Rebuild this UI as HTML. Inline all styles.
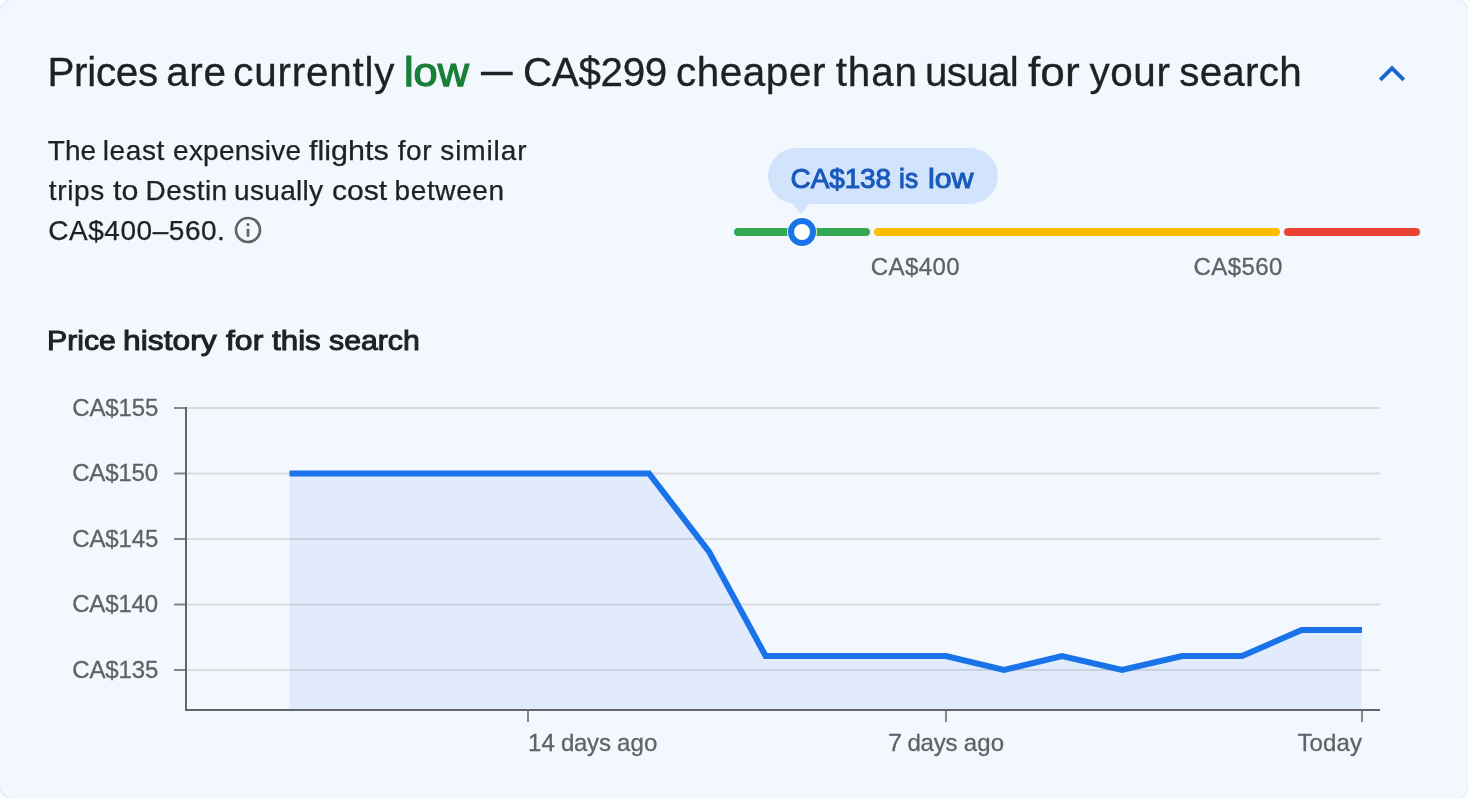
<!DOCTYPE html>
<html lang="en">
<head>
<meta charset="utf-8">
<title>Price insights</title>
<style>
  html, body { margin: 0; padding: 0; }
  html { width: 1468px; height: 798px; overflow: hidden; background: #ffffff; }
  body {
    width: 1468px; height: 798px; overflow: hidden; position: relative;
    background: #ffffff;
    font-family: "Liberation Sans", sans-serif;
    color: #202124;
  }
  .page { position: absolute; left: 0; top: 0; width: 1468px; height: 798px; overflow: hidden; }
  .card {
    position: absolute; left: -2px; top: -2px; width: 1468px; height: 798px;
    border: 2px solid #e5eefd; border-radius: 16px; background: #f3f7fe;
  }
  .t { position: absolute; white-space: nowrap; line-height: 1; transform-origin: 0 0; }
  .line { position: absolute; left: 0; top: 0; width: 0; height: 0; margin: 0; font-weight: normal; font-size: 0; }
  .g-h1 .t { top: 52px; font-size: 40.4px; color: #202124; -webkit-text-stroke: 0.3px #202124; }
  .g-p1 .t { top: 137px; font-size: 28px; color: #202124; -webkit-text-stroke: 0.25px #202124; }
  .g-p2 .t { top: 177px; font-size: 28px; color: #202124; -webkit-text-stroke: 0.25px #202124; }
  .g-p3 .t { top: 217px; font-size: 28px; color: #202124; -webkit-text-stroke: 0.25px #202124; }
  .g-h2 .t { top: 327px; font-size: 28px; color: #202124; -webkit-text-stroke: 1.0px #202124; }
  .g-bub .t { top: 165px; font-size: 28px; color: #185abc; -webkit-text-stroke: 1.0px #185abc; }
  .g-l400 .t { top: 255px; font-size: 24px; color: #5f6368; -webkit-text-stroke: 0.3px #5f6368; }
  .g-l560 .t { top: 255px; font-size: 24px; color: #5f6368; -webkit-text-stroke: 0.3px #5f6368; }
  .g-y155 .t { top: 396px; font-size: 24px; color: #5f6368; -webkit-text-stroke: 0.3px #5f6368; }
  .g-y150 .t { top: 461px; font-size: 24px; color: #5f6368; -webkit-text-stroke: 0.3px #5f6368; }
  .g-y145 .t { top: 527px; font-size: 24px; color: #5f6368; -webkit-text-stroke: 0.3px #5f6368; }
  .g-y140 .t { top: 592px; font-size: 24px; color: #5f6368; -webkit-text-stroke: 0.3px #5f6368; }
  .g-y135 .t { top: 658px; font-size: 24px; color: #5f6368; -webkit-text-stroke: 0.3px #5f6368; }
  .g-x14 .t { top: 731px; font-size: 24px; color: #5f6368; -webkit-text-stroke: 0.3px #5f6368; }
  .g-x7 .t { top: 731px; font-size: 24px; color: #5f6368; -webkit-text-stroke: 0.3px #5f6368; }
  .g-x0 .t { top: 731px; font-size: 24px; color: #5f6368; -webkit-text-stroke: 0.3px #5f6368; }
  .seg { position: absolute; top: 228px; height: 8px; border-radius: 4px; }
  .bubble {
    position: absolute; left: 768px; top: 148px; width: 230px; height: 56px;
    border-radius: 28px; background: #d2e3fc;
  }
  .bubble:after {
    content: ""; position: absolute; left: 25px; top: 56px;
    border-left: 8px solid transparent; border-right: 8px solid transparent;
    border-top: 10.7px solid #d2e3fc;
  }
  .knob {
    position: absolute; left: 788px; top: 218px; width: 16px; height: 16px;
    border: 6px solid #1a73e8; border-radius: 50%; background: #fff; box-shadow: 0 0 0 1px rgba(255,255,255,0.85);
  }
  svg { position: absolute; left: 0; top: 0; }
</style>
</head>
<body>
<div class="page"><div class="card"></div></div>

<h1 class="line g-h1"><span class="t" style="left:47.47px;letter-spacing:-0.312px;">Prices</span> <span class="t" style="left:166.35px;letter-spacing:0.566px;">are</span> <span class="t" style="left:233.23px;letter-spacing:0.794px;">currently</span> <span class="t" style="left:404.14px;color:#188038;-webkit-text-stroke:1.25px #188038;transform:scaleX(1.0703);">low</span> <span class="t" style="left:480.75px;transform:translateY(-4.6px) scale(0.7827,1.12);">—</span> <span class="t" style="left:522.99px;letter-spacing:-0.345px;">CA$299</span> <span class="t" style="left:675.96px;letter-spacing:0.579px;">cheaper</span> <span class="t" style="left:835.76px;letter-spacing:0.850px;">than</span> <span class="t" style="left:925.07px;letter-spacing:-0.740px;">usual</span> <span class="t" style="left:1027.60px;transform:scaleX(1.0950);">for</span> <span class="t" style="left:1089.49px;letter-spacing:0.600px;">your</span> <span class="t" style="left:1179.28px;letter-spacing:0.219px;">search</span></h1>

<svg width="1468" height="798" viewBox="0 0 1468 798" id="icons">
  <!-- chevron up -->
  <path d="M1392 65.4 L1378.8 78.4 L1381.6 81.2 L1392 70.9 L1402.4 81.2 L1405.2 78.4 Z" fill="#1967d2"/>
  <!-- info icon -->
  <g transform="translate(232 214) scale(1.3333)" fill="#5f6368">
    <path d="M11 7h2v2h-2zm0 4h2v6h-2zm1-9C6.48 2 2 6.48 2 12s4.48 10 10 10 10-4.48 10-10S17.52 2 12 2zm0 18c-4.41 0-8-3.59-8-8s3.59-8 8-8 8 3.59 8 8-3.59 8-8 8z"/>
  </g>
</svg>

<div class="line g-p1"><span class="t" style="left:47.80px;letter-spacing:0.025px;">The</span> <span class="t" style="left:102.83px;letter-spacing:0.563px;">least</span> <span class="t" style="left:173.09px;letter-spacing:0.231px;">expensive</span> <span class="t" style="left:308.99px;transform:scaleX(1.0886);">flights</span> <span class="t" style="left:397.82px;letter-spacing:0.509px;">for</span> <span class="t" style="left:440.33px;letter-spacing:0.876px;">similar</span></div>
<div class="line g-p2"><span class="t" style="left:48.76px;letter-spacing:0.660px;">trips</span> <span class="t" style="left:112.60px;transform:scaleX(1.0862);">to</span> <span class="t" style="left:145.45px;letter-spacing:0.477px;">Destin</span> <span class="t" style="left:234.08px;letter-spacing:0.301px;">usually</span> <span class="t" style="left:331.86px;transform:scaleX(1.0749);">cost</span> <span class="t" style="left:394.51px;letter-spacing:0.624px;">between</span></div>
<div class="line g-p3"><span class="t" style="left:48.25px;letter-spacing:0.538px;">CA$400–560.</span></div>

<!-- price range slider -->
<div class="seg" style="left:734px;width:136px;background:#34a853"></div>
<div class="seg" style="left:874px;width:406px;background:#fbbc04"></div>
<div class="seg" style="left:1284px;width:136px;background:#ea4335"></div>
<div class="bubble"></div>
<div class="line g-bub"><span class="t" style="left:790.61px;letter-spacing:-0.136px;">CA$138</span> <span class="t" style="left:898.94px;transform:scaleX(0.9446);">is</span> <span class="t" style="left:927.79px;transform:scaleX(1.0838);">low</span></div>
<div class="knob"></div>
<div class="line g-l400"><span class="t" style="left:870.70px;letter-spacing:0.460px;">CA$400</span></div>
<div class="line g-l560"><span class="t" style="left:1193.50px;letter-spacing:0.416px;">CA$560</span></div>

<h2 class="line g-h2"><span class="t" style="left:47.13px;transform:scaleX(1.0785);">Price</span> <span class="t" style="left:122.57px;transform:scaleX(1.1351);">history</span> <span class="t" style="left:226.15px;transform:scaleX(1.1403);">for</span> <span class="t" style="left:272.13px;transform:scaleX(1.1200);">this</span> <span class="t" style="left:328.89px;transform:scaleX(1.0805);">search</span></h2>

<!-- chart -->
<svg width="1468" height="798" viewBox="0 0 1468 798" id="chart">
  <g stroke="#dadce0" stroke-width="2">
    <line x1="186" y1="408" x2="1380" y2="408"/>
    <line x1="186" y1="473.5" x2="1380" y2="473.5"/>
    <line x1="186" y1="539" x2="1380" y2="539"/>
    <line x1="186" y1="604.5" x2="1380" y2="604.5"/>
    <line x1="186" y1="670" x2="1380" y2="670"/>
  </g>
  <path d="M289.5 473.5 L649 473.5 L709 551.6 L765.6 656 L946 656 L1004 670 L1062 656 L1122 670 L1182 656 L1242 656 L1301.7 630 L1362 630 L1361.3 710 L289.5 710 Z" fill="#1a73e8" fill-opacity="0.083"/>
  <g stroke="#85878a" stroke-width="2">
    <line x1="174" y1="408" x2="186" y2="408"/>
    <line x1="174" y1="473.5" x2="186" y2="473.5"/>
    <line x1="174" y1="539" x2="186" y2="539"/>
    <line x1="174" y1="604.5" x2="186" y2="604.5"/>
    <line x1="174" y1="670" x2="186" y2="670"/>
    <line x1="528" y1="710" x2="528" y2="722"/>
    <line x1="946" y1="710" x2="946" y2="722"/>
    <line x1="1362" y1="710" x2="1362" y2="722"/>
  </g>
  <g stroke="#62666b" stroke-width="2">
    <line x1="186" y1="407" x2="186" y2="711"/>
    <line x1="185" y1="710" x2="1380" y2="710"/>
  </g>
  <path d="M289.5 473.5 L649 473.5 L709 551.6 L765.6 656 L946 656 L1004 670 L1062 656 L1122 670 L1182 656 L1242 656 L1301.7 630 L1362 630" fill="none" stroke="#1a73e8" stroke-width="6" stroke-linejoin="miter"/>
</svg>

<div class="line g-y155"><span class="t" style="left:72.22px;letter-spacing:-0.120px;">CA$155</span></div>
<div class="line g-y150"><span class="t" style="left:72.21px;letter-spacing:-0.167px;">CA$150</span></div>
<div class="line g-y145"><span class="t" style="left:72.22px;letter-spacing:-0.120px;">CA$145</span></div>
<div class="line g-y140"><span class="t" style="left:72.21px;letter-spacing:-0.167px;">CA$140</span></div>
<div class="line g-y135"><span class="t" style="left:72.22px;letter-spacing:-0.120px;">CA$135</span></div>

<div class="line g-x14"><span class="t" style="left:528.05px;letter-spacing:0.164px;">14</span> <span class="t" style="left:560.89px;letter-spacing:-0.225px;">days</span> <span class="t" style="left:617.09px;letter-spacing:0.092px;">ago</span></div>
<div class="line g-x7"><span class="t" style="left:887.84px;transform:scaleX(1.0504);">7</span> <span class="t" style="left:907.41px;letter-spacing:-0.218px;">days</span> <span class="t" style="left:963.76px;letter-spacing:0.110px;">ago</span></div>
<div class="line g-x0"><span class="t" style="left:1297.50px;letter-spacing:0.124px;">Today</span></div>
</body>
</html>
